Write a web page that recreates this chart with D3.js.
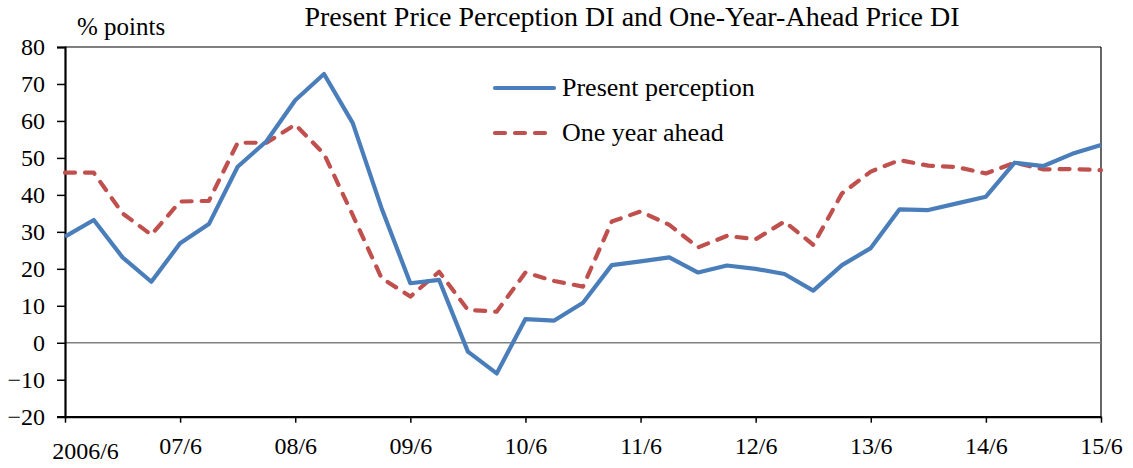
<!DOCTYPE html>
<html><head><meta charset="utf-8">
<script src="https://cdn.jsdelivr.net/npm/d3@7"></script>
<style>
body{margin:0;background:#fff;}
svg text{font-family:"Liberation Serif","Times New Roman",serif !important;}
</style></head>
<body><svg id="c" width="1133" height="468"></svg>
<script>
const periods = ["2006/6","2006/9","2006/12","2007/3","2007/6","2007/9","2007/12","2008/3","2008/6","2008/9","2008/12","2009/3","2009/6","2009/9","2009/12","2010/3","2010/6","2010/9","2010/12","2011/3","2011/6","2011/9","2011/12","2012/3","2012/6","2012/9","2012/12","2013/3","2013/6","2013/9","2013/12","2014/3","2014/6","2014/9","2014/12","2015/3","2015/6"];
const present = [28.7,33.2,23.1,16.5,26.9,32.1,47.6,54.5,65.6,72.7,59.4,36.4,16.1,17.0,-2.4,-8.3,6.4,6.0,10.8,21.0,22.0,23.1,19.0,20.9,20.0,18.6,14.1,21.0,25.6,36.1,35.9,37.7,39.5,48.7,47.8,51.1,53.5];
const oneYear = [46.0,46.0,35.0,29.2,38.2,38.4,54.1,54.1,59.0,51.1,34.5,17.5,12.5,19.2,8.9,8.4,19.0,16.7,15.2,32.8,35.5,31.9,25.8,28.9,28.0,32.8,26.5,40.4,46.3,49.4,47.9,47.5,45.8,48.7,46.9,47.0,46.7];
const xTickValues = ["2006/6","2007/6","2008/6","2009/6","2010/6","2011/6","2012/6","2013/6","2014/6","2015/6"];
const xTickLabels = ["2006/6","07/6","08/6","09/6","10/6","11/6","12/6","13/6","14/6","15/6"];
const yTicks = [-20,-10,0,10,20,30,40,50,60,70,80];
const seriesNames = ["Present perception","One year ahead"];
const title = "Present Price Perception DI and One-Year-Ahead Price DI";
const unitLabel = "% points";

const FF = "'Liberation Serif', 'Times New Roman', serif";
const svg = d3.select("#c");
const L=65, R=1101, T=47, B=416.7;
const x = d3.scalePoint().domain(periods).range([L,R]);
const y = d3.scaleLinear().domain([-20,80]).range([B,T]);

svg.append("line").attr("x1",L).attr("x2",R).attr("y1",T).attr("y2",T).attr("stroke","#000").attr("stroke-width",1.2);
svg.append("line").attr("x1",R).attr("x2",R).attr("y1",T).attr("y2",B).attr("stroke","#000").attr("stroke-width",1.2);
svg.append("line").attr("x1",L).attr("x2",R).attr("y1",y(0)).attr("y2",y(0)).attr("stroke","#808080").attr("stroke-width",1.5);

const yAxis = svg.append("g").attr("transform",`translate(${L},0)`)
  .call(d3.axisLeft(y).tickValues(yTicks).tickSize(8).tickPadding(12).tickFormat(d3.format("d")));
yAxis.attr("font-family",FF).attr("font-size",24);
yAxis.select(".domain").attr("stroke-width",2.2);
yAxis.selectAll(".tick line").attr("stroke-width",1.5);
yAxis.selectAll("text").attr("fill","#000").style("font-family",FF);

const xAxis = svg.append("g").attr("transform",`translate(0,${B})`)
  .call(d3.axisBottom(x).tickValues(xTickValues).tickSize(6).tickSizeOuter(0).tickPadding(14)
    .tickFormat((d,i)=>xTickLabels[i]));
xAxis.attr("font-family",FF).attr("font-size",24);
xAxis.select(".domain").attr("stroke-width",2.2);
xAxis.selectAll(".tick line").attr("stroke-width",1.5);
xAxis.selectAll("text").attr("fill","#000").style("font-family",FF);
xAxis.selectAll(".tick").filter((d,i)=>i===0).select("text").attr("dx",20).attr("dy","0.95em");

const line = d3.line().x((d,i)=>x(periods[i])).y(d=>y(d));
svg.append("path").datum(oneYear).attr("d",line).attr("fill","none")
  .attr("stroke","#c0504d").attr("stroke-width",4.2).attr("stroke-dasharray","10,10").attr("stroke-linecap","round").attr("stroke-linejoin","round");
svg.append("path").datum(present).attr("d",line).attr("fill","none")
  .attr("stroke","#4a7ebb").attr("stroke-width",4.2).attr("stroke-linejoin","round");

const lg = svg.append("g").attr("font-family",FF).attr("font-size",26);
lg.append("line").attr("x1",495).attr("x2",554).attr("y1",88).attr("y2",88).attr("stroke","#4a7ebb").attr("stroke-width",4.2).attr("stroke-linecap","round");
lg.append("line").attr("x1",495).attr("x2",550).attr("y1",133).attr("y2",133).attr("stroke","#c0504d").attr("stroke-width",4.2).attr("stroke-dasharray","10,10").attr("stroke-linecap","round");
lg.append("text").attr("x",562).attr("y",96).text(seriesNames[0]);
lg.append("text").attr("x",562).attr("y",141).text(seriesNames[1]);

svg.append("text").attr("x",632).attr("y",26).attr("text-anchor","middle").attr("font-family",FF).attr("font-size",28).text(title);
svg.append("text").attr("x",77).attr("y",35).attr("font-family",FF).attr("font-size",25).text(unitLabel);
</script></body></html>
